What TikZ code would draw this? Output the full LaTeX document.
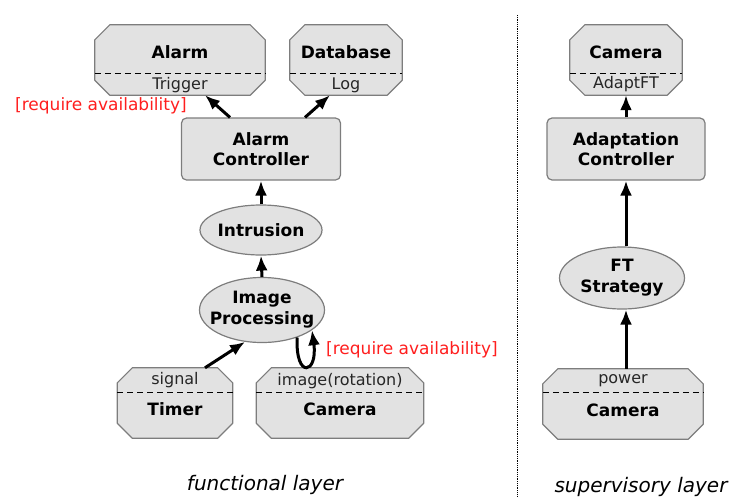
\documentclass[tikz,border=0pt]{standalone}
\usepackage{fontspec}
\setmainfont{DejaVu Sans}
\usetikzlibrary{shapes.geometric,arrows.meta}
\definecolor{boxgray}{RGB}{226,226,226}
\definecolor{edgegray}{RGB}{125,125,125}
\definecolor{reqred}{RGB}{255,30,30}

% octagon frame round a named box node
\newcommand{\octframe}[1]{%
	\draw[octline] ([xshift=15pt]#1.north west) -- ([xshift=-15pt]#1.north east)
	-- ([yshift=-15pt]#1.north east) -- ([yshift=15pt]#1.south east)
	-- ([xshift=-15pt]#1.south east) -- ([xshift=15pt]#1.south west)
	-- ([yshift=15pt]#1.south west) -- ([yshift=-15pt]#1.north west) -- cycle;}

\begin{document}
\begin{tikzpicture}
	[x=1pt,y=-1pt,%%%%%%%%%%%%%%%%%%%%%%%%%%%%%%
	octbox/.style={rectangle,inner sep=0pt,minimum height=70pt},
	octline/.style={draw=edgegray,line width=1.2pt,fill=boxgray,line join=round},
	ctrlbox/.style={rectangle,rounded corners=5pt,draw=edgegray,line width=1.2pt,fill=boxgray,
		minimum width=159pt,minimum height=62pt,align=center,font=\bfseries\fontsize{17}{20}\selectfont},
	oval/.style={ellipse,draw=edgegray,line width=1.2pt,fill=boxgray,inner sep=0pt},
	maintxt/.style={align=center,inner sep=0pt,font=\bfseries\fontsize{17}{21}\selectfont},
	porttxt/.style={inner sep=0pt,font=\fontsize{16}{18}\selectfont,text=black!85},
	reqtxt/.style={inner sep=0pt,text=reqred,font=\fontsize{17}{20}\selectfont},
	layertxt/.style={inner sep=0pt,font=\itshape\fontsize{20}{24}\selectfont},
	sep/.style={dashed,line width=0.9pt,dash pattern=on 6pt off 4pt},
	arr/.style={-{Latex[length=15pt,width=12pt]},line width=3pt},
	]%%%%%%%%%%%%%%%%%%%%%%%%%%%%%%
	\useasboundingbox (0,0) rectangle (737,496);
	
	% functional layer
	\node[octbox,minimum width=170pt] (alarm) at (180,60){};
	\octframe{alarm}
	\node[maintxt] at (180,52) {Alarm};
	\node[porttxt] at (180,85) {Trigger};
	\draw[sep] ([yshift=-13pt]alarm.west) -- ([yshift=-13pt]alarm.east);
	
	\node[octbox,minimum width=112pt] (db) at (346,60){};
	\octframe{db}
	\node[maintxt] at (346,52) {Database};
	\node[porttxt] at (346,85) {Log};
	\draw[sep] ([yshift=-13pt]db.west) -- ([yshift=-13pt]db.east);
	
	\node[ctrlbox] (ctrl) at (261,149) {Alarm\\Controller};
	\node[reqtxt] (req1) at (101,106) {[require availability]};
	
	\node[oval,minimum width=122pt,minimum height=50pt] (intr) at (261,230){};
	\node[maintxt] at (intr) {Intrusion};
	
	\node[oval,minimum width=125pt,minimum height=65pt] (ip) at (262,310){};
	\node[maintxt] at (ip) {Image\\Processing};
	
	\node[octbox,minimum width=115pt] (timer) at (175,403){};
	\octframe{timer}
	\node[porttxt] at (175,380) {signal};
	\node[maintxt] at (175,409) {Timer};
	\draw[sep] ([yshift=11pt]timer.west) -- ([yshift=11pt]timer.east);
	
	\node[octbox,minimum width=167pt] (cam) at (340,403){};
	\octframe{cam}
	\node[porttxt] at (340,381) {image(rotation)};
	\node[maintxt] at (340,409) {Camera};
	\draw[sep] ([yshift=11pt]cam.west) -- ([yshift=11pt]cam.east);
	\node[reqtxt] (req2) at (412,350) {[require availability]};
	
	\draw[arr] ([xshift=-31pt]ctrl.north) -- ([xshift=25pt]alarm.south);
	\draw[arr] ([xshift=44pt]ctrl.north) -- ([xshift=-16pt]db.south);
	\draw[arr] (intr.north) -- (ctrl.south);
	\draw[arr] (ip.north) -- (intr.south);
	\draw[arr] ([xshift=30pt]timer.north) -- (ip.-118);
	\draw[arr] (ip.-38) .. controls +(-2,42) and +(6,44) .. (ip.-22);
	
	% layer border
	\coordinate (top) at (517,15);
	\coordinate (bot) at (517,496);
	\draw[densely dotted,line width=0.8pt] (top) -- (bot);
	
	% supervisory layer
	\node[octbox,minimum width=112pt] (camtop) at (626,60){};
	\octframe{camtop}
	\node[maintxt] at (626,52) {Camera};
	\node[porttxt] at (626,84) {AdaptFT};
	\draw[sep] ([yshift=-13pt]camtop.west) -- ([yshift=-13pt]camtop.east);
	
	\node[ctrlbox,minimum width=158pt] (adapt) at (626,149) {Adaptation\\Controller};
	
	\node[oval,minimum width=125pt,minimum height=62pt] (ft) at (622,278){};
	\node[maintxt] at (ft) {FT\\Strategy};
	
	\node[octbox,minimum width=160pt] (campow) at (623,404){};
	\octframe{campow}
	\node[porttxt] at (623,381) {power};
	\node[maintxt] at (623,410) {Camera};
	\draw[sep] ([yshift=12pt]campow.west) -- ([yshift=12pt]campow.east);
	
	\draw[arr] (adapt.north) -- (camtop.south);
	\draw[arr] (ft.north -| adapt.south) -- (adapt.south);
	\draw[arr] (campow.north -| adapt.south) -- (ft.south -| adapt.south);
	
	\node[layertxt] (fl) at (265,485) {functional layer};
	\node[layertxt] (sl) at (641,487) {supervisory layer};
	
	\end{tikzpicture}
\end{document}
